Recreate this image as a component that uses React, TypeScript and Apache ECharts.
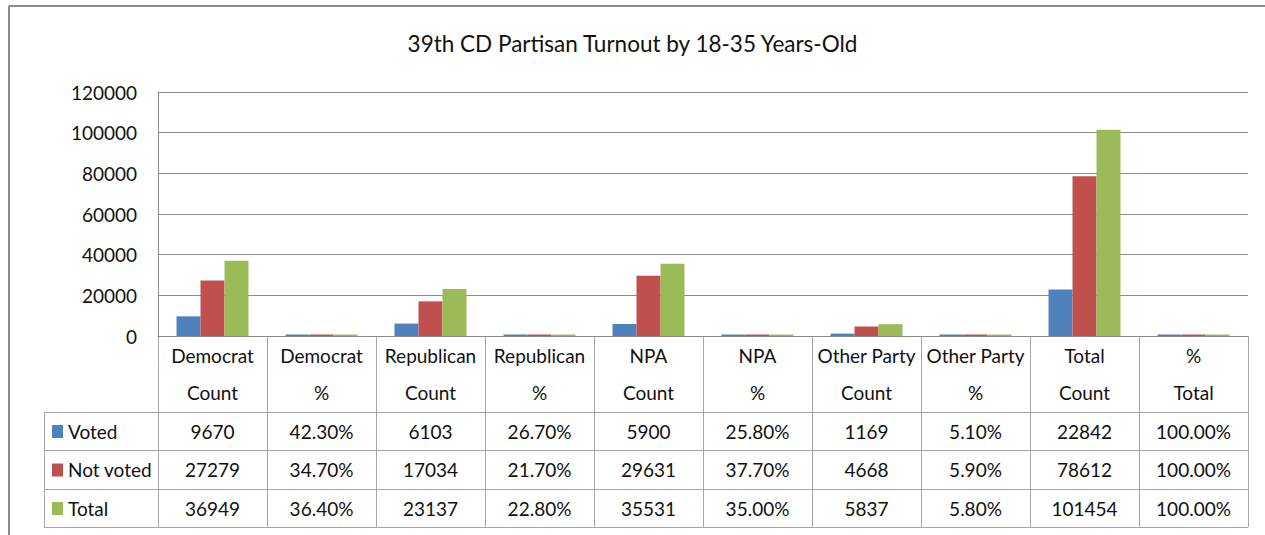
import React, { useEffect, useRef } from "react";
import * as echarts from "echarts";

const categories = [
  "Democrat\nCount", "Democrat\n%", "Republican\nCount", "Republican\n%",
  "NPA\nCount", "NPA\n%", "Other Party\nCount", "Other Party\n%",
  "Total\nCount", "%\nTotal",
];
const isPct = [false, true, false, true, false, true, false, true, false, true];
const voted = [9670, 0.423, 6103, 0.267, 5900, 0.258, 1169, 0.051, 22842, 1.0];
const notVoted = [27279, 0.347, 17034, 0.217, 29631, 0.377, 4668, 0.059, 78612, 1.0];
const total = [36949, 0.364, 23137, 0.228, 35531, 0.35, 5837, 0.058, 101454, 1.0];
const seriesNames = ["Voted", "Not voted", "Total"];
const colors = ["#4F81BD", "#C0504D", "#9BBB59"];
const yTicks = { min: 0, max: 120000, interval: 20000 };

const W = 1265, H = 535;
const GL = 158, GT = 92, GR = 1248, GB = 336;
const LEGEND_L = 44;
const HEADER_B = 412;
const ROW_B = [450, 489, 527];
const FONT = "Lato, 'Open Sans', sans-serif";
const LINE = "#a6a6a6";

function fmt(v: number, pct: boolean) {
  return pct ? (v * 100).toFixed(2) + "%" : String(v);
}

export default function App() {
  const ref = useRef<HTMLDivElement>(null);
  useEffect(() => {
    document.body.style.margin = "0";
    const chart = echarts.init(ref.current!, null, { renderer: "svg" });
    const rows = [voted, notVoted, total];
    const colW = (GR - GL) / categories.length;
    const g: any[] = [];
    const tf = `19px ${FONT}`;
    g.push({ type: "line", shape: { x1: 9, y1: 6, x2: W, y2: 6 }, style: { stroke: "#8c8c8c", lineWidth: 2 } });
    g.push({ type: "line", shape: { x1: 9, y1: 6, x2: 9, y2: H }, style: { stroke: "#8c8c8c", lineWidth: 2 } });
    for (let i = 0; i <= categories.length; i++) {
      const x = Math.round(GL + i * colW) + 0.5;
      g.push({ type: "line", shape: { x1: x, y1: GB, x2: x, y2: ROW_B[2] }, style: { stroke: LINE, lineWidth: 1 } });
    }
    g.push({ type: "line", shape: { x1: LEGEND_L + 0.5, y1: HEADER_B, x2: LEGEND_L + 0.5, y2: ROW_B[2] }, style: { stroke: LINE, lineWidth: 1 } });
    [HEADER_B, ...ROW_B].forEach((y) => {
      g.push({ type: "line", shape: { x1: LEGEND_L, y1: y + 0.5, x2: GR, y2: y + 0.5 }, style: { stroke: LINE, lineWidth: 1 } });
    });
    categories.forEach((c, i) => {
      const [a, b] = c.split("\n");
      const cx = GL + (i + 0.5) * colW;
      g.push({ type: "text", x: cx, y: 355, style: { text: a, font: tf, fill: "#111", align: "center", verticalAlign: "middle" } });
      g.push({ type: "text", x: cx, y: 392, style: { text: b, font: tf, fill: "#111", align: "center", verticalAlign: "middle" } });
    });
    rows.forEach((r, ri) => {
      const top = ri === 0 ? HEADER_B : ROW_B[ri - 1];
      const cy = (top + ROW_B[ri]) / 2;
      g.push({ type: "rect", shape: { x: 52, y: cy - 6, width: 11, height: 13 }, style: { fill: colors[ri] } });
      g.push({ type: "text", x: 68, y: cy, style: { text: seriesNames[ri], font: tf, fill: "#111", align: "left", verticalAlign: "middle" } });
      r.forEach((v, i) => {
        const cx = GL + (i + 0.5) * colW;
        g.push({ type: "text", x: cx, y: cy, style: { text: fmt(v, isPct[i]), font: tf, fill: "#111", align: "center", verticalAlign: "middle" } });
      });
    });

    chart.setOption({
      animation: false,
      backgroundColor: "#fff",
      title: {
        text: "39th CD Partisan Turnout by 18-35 Years-Old",
        left: "center",
        top: 27,
        textStyle: { fontFamily: FONT, fontSize: 22.5, fontWeight: "normal", color: "#111" },
      },
      grid: { left: GL, top: GT, right: W - GR, bottom: H - GB, containLabel: false },
      xAxis: {
        type: "category",
        data: categories,
        axisLabel: { show: false },
        axisTick: { show: false },
        axisLine: { lineStyle: { color: "#8c8c8c", width: 1 } },
      },
      yAxis: {
        type: "value",
        min: yTicks.min, max: yTicks.max, interval: yTicks.interval,
        axisLabel: { margin: 21, fontFamily: FONT, fontSize: 19, color: "#111", formatter: (v: number) => String(v) },
        axisLine: { show: true, lineStyle: { color: "#8c8c8c" } },
        axisTick: { show: false },
        splitLine: { lineStyle: { color: "#8c8c8c", width: 1 } },
      },
      series: rows.map((r, i) => ({
        name: seriesNames[i],
        type: "bar",
        data: r,
        barWidth: 24,
        barGap: "0%",
        barMinHeight: 1.5,
        itemStyle: { color: colors[i] },
      })),
      graphic: g,
    });
    return () => chart.dispose();
  }, []);
  return <div ref={ref} style={{ width: W, height: H }} />;
}
